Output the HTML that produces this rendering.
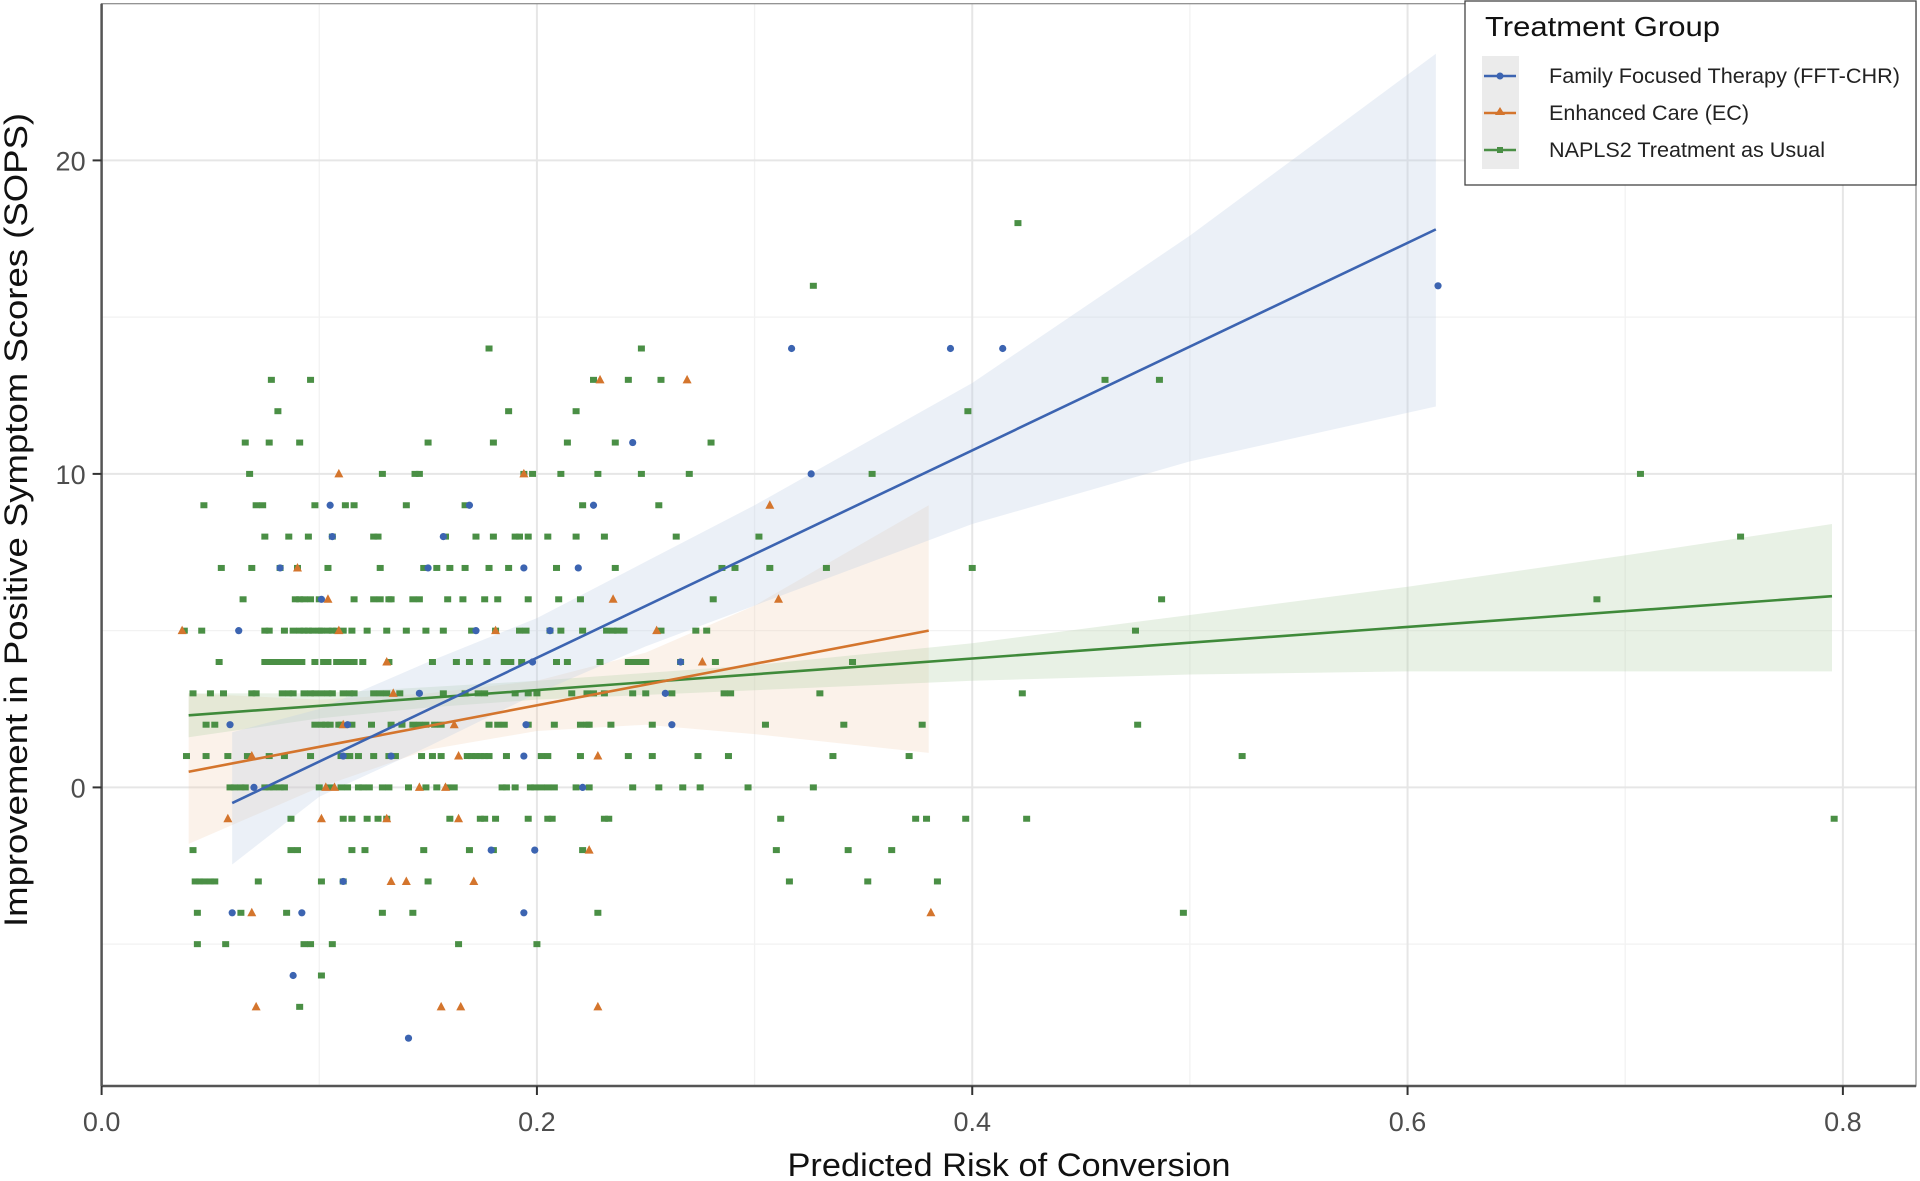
<!DOCTYPE html>
<html><head><meta charset="utf-8">
<style>
html,body{margin:0;padding:0;background:#fff;}
svg{display:block;font-family:"Liberation Sans",sans-serif;}
</style></head>
<body>
<svg id="chart" width="1920" height="1181" viewBox="0 0 1920 1181" xmlns="http://www.w3.org/2000/svg">
<g id="grid"></g>
<g id="bands"></g>
<g id="pts"></g>
<g id="lines"></g>
<g id="axes"></g>
<g id="legend">
  <rect x="1465" y="1" width="451" height="184" fill="#fff" stroke="#444" stroke-width="1.3"/>
  <text x="1485" y="36" font-size="28" fill="#111" textLength="235" lengthAdjust="spacingAndGlyphs">Treatment Group</text>
  <rect x="1482" y="56" width="37" height="113" fill="#ebebeb"/>
  <g>
    <line x1="1484" y1="76" x2="1516" y2="76" stroke="#3c64b1" stroke-width="2.5"/><circle cx="1500" cy="76" r="3.5" fill="#3c64b1"/>
    <text x="1549" y="83" font-size="21" fill="#222" textLength="351" lengthAdjust="spacingAndGlyphs">Family Focused Therapy (FFT-CHR)</text></g>
  <g>
    <line x1="1484" y1="113" x2="1516" y2="113" stroke="#d4752d" stroke-width="2.5"/><path d="M1500,107 L1505,115 L1495,115Z" fill="#d4752d"/>
    <text x="1549" y="120" font-size="21" fill="#222" textLength="200" lengthAdjust="spacingAndGlyphs">Enhanced Care (EC)</text></g>
  <g>
    <line x1="1484" y1="150" x2="1516" y2="150" stroke="#4a8f45" stroke-width="2.5"/><rect x="1497" y="147" width="6" height="6" fill="#4a8f45"/>
    <text x="1549" y="157" font-size="21" fill="#222" textLength="276" lengthAdjust="spacingAndGlyphs">NAPLS2 Treatment as Usual</text></g>
</g>
</svg>
<script>
const xTicks=[0,0.2,0.4,0.6,0.8];
const xTickLabels=["0.0","0.2","0.4","0.6","0.8"];
const yTicks=[0,10,20];
const yTickLabels=["0","10","20"];
const xMinor=[0.1,0.3,0.5,0.7];
const yMinor=[-5,5,15];
// fitted lines [x0,y0,x1,y1]
const fftLine=[0.06,-0.5,0.613,17.8];
const ecLine=[0.04,0.5,0.38,5.0];
const tauLine=[0.04,2.3,0.795,6.1];
// confidence bands
const fftBandX=[0.06,0.1,0.15,0.2,0.25,0.3,0.4,0.5,0.613];
const fftBandLo=[-2.46,-0.3,1.3,3.0,4.5,5.8,8.4,10.4,12.15];
const fftBandHi=[1.76,2.5,4.0,5.4,7.2,9.0,12.9,17.6,23.4];
const ecBandX=[0.04,0.1,0.15,0.2,0.25,0.3,0.38];
const ecBandLo=[-1.8,0.0,1.2,1.8,2.0,1.7,1.1];
const ecBandHi=[3.0,2.8,3.0,3.4,4.3,5.8,9.0];
const tauBandX=[0.04,0.1,0.15,0.2,0.3,0.4,0.5,0.6,0.7,0.795];
const tauBandLo=[1.6,2.2,2.55,2.8,3.1,3.4,3.6,3.7,3.7,3.7];
const tauBandHi=[3.0,3.0,3.2,3.4,3.9,4.6,5.5,6.4,7.4,8.4];
// points: [score,[risk...]]
const fftRows=[[16,[0.614]],[14,[0.317,0.390,0.414]],[11,[0.244]],[10,[0.326]],[9,[0.105,0.169,0.226]],[8,[0.106,0.157]],[7,[0.082,0.150,0.194,0.219]],[6,[0.101]],[5,[0.063,0.172,0.206]],[4,[0.198,0.266]],[3,[0.146,0.259]],[2,[0.059,0.113,0.195,0.262]],[1,[0.111,0.133,0.194]],[0,[0.070,0.221]],[-2,[0.179,0.199]],[-3,[0.111]],[-4,[0.060,0.092,0.194]],[-6,[0.088]],[-8,[0.141]]];
const ecRows=[[13,[0.229,0.269]],[10,[0.109,0.194]],[9,[0.307]],[7,[0.090]],[6,[0.104,0.235,0.311]],[5,[0.037,0.109,0.181,0.255]],[4,[0.131,0.276]],[3,[0.134]],[2,[0.111,0.162]],[1,[0.069,0.164,0.228]],[0,[0.103,0.107,0.146,0.158]],[-1,[0.058,0.101,0.131,0.164]],[-2,[0.224]],[-3,[0.133,0.140,0.171]],[-4,[0.069,0.381]],[-7,[0.071,0.156,0.165,0.228]]];
const tauRows=[[18,[0.421]],[16,[0.327]],[14,[0.178,0.248]],[13,[0.078,0.096,0.226,0.242,0.257,0.461,0.486]],[12,[0.081,0.187,0.218,0.398]],
[11,[0.066,0.077,0.091,0.150,0.180,0.214,0.236,0.280]],
[10,[0.068,0.129,0.144,0.146,0.194,0.198,0.211,0.228,0.248,0.270,0.354,0.707]],
[9,[0.047,0.071,0.074,0.098,0.112,0.116,0.140,0.167,0.221,0.256]],
[8,[0.075,0.086,0.095,0.106,0.125,0.127,0.158,0.172,0.180,0.190,0.192,0.196,0.205,0.218,0.231,0.264,0.302,0.753]],
[7,[0.055,0.069,0.082,0.090,0.104,0.128,0.148,0.154,0.160,0.167,0.178,0.187,0.209,0.236,0.285,0.291,0.307,0.333,0.400]],
[6,[0.065,0.089,0.091,0.093,0.096,0.100,0.116,0.125,0.128,0.132,0.133,0.143,0.146,0.159,0.166,0.176,0.182,0.196,0.210,0.220,0.281,0.487,0.687]],
[5,[0.038,0.046,0.075,0.077,0.084,0.088,0.091,0.093,0.095,0.097,0.100,0.101,0.104,0.106,0.108,0.111,0.115,0.122,0.131,0.140,0.149,0.157,0.170,0.181,0.192,0.195,0.206,0.211,0.221,0.232,0.235,0.237,0.240,0.257,0.273,0.278,0.475]],
[4,[0.054,0.075,0.077,0.079,0.082,0.084,0.087,0.089,0.092,0.098,0.102,0.104,0.108,0.111,0.113,0.116,0.120,0.132,0.152,0.163,0.169,0.177,0.185,0.188,0.193,0.209,0.214,0.229,0.242,0.245,0.248,0.250,0.266,0.282,0.345]],
[3,[0.042,0.050,0.056,0.069,0.071,0.083,0.086,0.088,0.093,0.096,0.098,0.101,0.104,0.106,0.111,0.114,0.116,0.125,0.128,0.131,0.137,0.157,0.167,0.173,0.176,0.190,0.196,0.200,0.216,0.223,0.226,0.231,0.244,0.250,0.262,0.286,0.289,0.330,0.423]],
[2,[0.048,0.052,0.098,0.101,0.103,0.105,0.109,0.110,0.115,0.124,0.133,0.138,0.143,0.146,0.149,0.153,0.156,0.178,0.182,0.185,0.196,0.208,0.220,0.223,0.224,0.234,0.253,0.305,0.341,0.377,0.476]],
[1,[0.039,0.048,0.058,0.067,0.077,0.084,0.096,0.110,0.112,0.114,0.118,0.125,0.132,0.135,0.147,0.152,0.156,0.168,0.170,0.172,0.174,0.176,0.178,0.186,0.202,0.205,0.220,0.242,0.253,0.274,0.288,0.336,0.371,0.524]],
[0,[0.059,0.061,0.064,0.066,0.075,0.077,0.079,0.082,0.084,0.100,0.105,0.110,0.113,0.118,0.120,0.123,0.129,0.132,0.141,0.149,0.154,0.159,0.162,0.184,0.186,0.190,0.197,0.199,0.202,0.205,0.208,0.218,0.224,0.244,0.256,0.267,0.275,0.297,0.327]],
[-1,[0.087,0.111,0.115,0.122,0.127,0.131,0.160,0.174,0.176,0.181,0.196,0.205,0.207,0.231,0.233,0.312,0.374,0.379,0.397,0.425,0.796]],
[-2,[0.042,0.087,0.090,0.115,0.121,0.148,0.169,0.180,0.221,0.310,0.343,0.363]],
[-3,[0.043,0.045,0.047,0.050,0.052,0.072,0.101,0.111,0.150,0.316,0.352,0.384]],
[-4,[0.044,0.064,0.085,0.129,0.143,0.228,0.497]],
[-5,[0.044,0.057,0.093,0.096,0.106,0.164,0.200]],
[-6,[0.101]],[-7,[0.091]]];

const NS="http://www.w3.org/2000/svg";
const L=101.6,R=1916,T=3.7,B=1086;
const X=v=>L+2176.6*v;
const Y=v=>787.4-31.35*v;
function mk(tag,attrs,parent){const e=document.createElementNS(NS,tag);for(const k in attrs)e.setAttribute(k,attrs[k]);parent.appendChild(e);return e;}
const grid=document.getElementById('grid'),bands=document.getElementById('bands'),pts=document.getElementById('pts'),lines=document.getElementById('lines'),axes=document.getElementById('axes');
mk('rect',{x:L,y:T,width:R-L,height:B-T,fill:'#fff'},grid);
xMinor.forEach(v=>{const e=mk('line',{x1:X(v),x2:X(v),y1:T,y2:B,stroke:'#f2f2f2','stroke-width':1.3},grid);

});
yMinor.forEach(v=>{const e=mk('line',{x1:L,x2:R,y1:Y(v),y2:Y(v),stroke:'#f2f2f2','stroke-width':1.3},grid);

});
xTicks.forEach(v=>{const e=mk('line',{x1:X(v),x2:X(v),y1:T,y2:B,stroke:'#e6e6e6','stroke-width':2},grid);

});
yTicks.forEach(v=>{const e=mk('line',{x1:L,x2:R,y1:Y(v),y2:Y(v),stroke:'#e6e6e6','stroke-width':2},grid);

});
function band(xs,lo,hi,fill,name){let d='M'+xs.map((x,i)=>X(x)+','+Y(hi[i])).join(' L');
for(let i=xs.length-1;i>=0;i--)d+=' L'+X(xs[i])+','+Y(lo[i]);
const e=mk('path',{d:d+'Z',fill:fill},bands);

}
band(ecBandX,ecBandLo,ecBandHi,'rgba(240,205,170,0.25)','ec-ci-band');
band(tauBandX,tauBandLo,tauBandHi,'rgba(180,210,170,0.3)','tau-ci-band');
band(fftBandX,fftBandLo,fftBandHi,'rgba(190,205,230,0.3)','fft-ci-band');
function drawPts(rows,kind,color,name){rows.forEach(r=>{const y=r[0];r[1].forEach(x=>{let e;const cx=X(x),cy=Y(y);
if(kind==='sq')e=mk('rect',{x:cx-3.5,y:cy-3,width:7,height:6,fill:color},pts);
else if(kind==='ci')e=mk('circle',{cx:cx,cy:cy,r:3.6,fill:color},pts);
else e=mk('path',{d:`M${cx},${cy-5} L${cx+4.5},${cy+3.5} L${cx-4.5},${cy+3.5}Z`,fill:color},pts);

});});}
drawPts(tauRows,'sq','#4a8f45','tau-point');
drawPts(ecRows,'tr','#d4752d','ec-point');
drawPts(fftRows,'ci','#3c64b1','fft-point');
function ln(a,color,name){const e=mk('line',{x1:X(a[0]),y1:Y(a[1]),x2:X(a[2]),y2:Y(a[3]),stroke:color,'stroke-width':2.6},lines);

}
ln(tauLine,'#3f8a3a','tau-fit-line');
ln(ecLine,'#d4752d','ec-fit-line');
ln(fftLine,'#3c64b1','fft-fit-line');
// frame and axes
mk('rect',{x:L,y:T,width:R-L,height:B-T,fill:'none',stroke:'#888','stroke-width':1.2},axes);
mk('line',{x1:L,x2:L,y1:T,y2:B,stroke:'#555','stroke-width':2.5},axes);
mk('line',{x1:L,x2:R,y1:B,y2:B,stroke:'#555','stroke-width':2.5},axes);
xTicks.forEach((v,i)=>{mk('line',{x1:X(v),x2:X(v),y1:B,y2:B+9,stroke:'#333','stroke-width':2},axes);
const t=mk('text',{x:X(v),y:1131,'font-size':27,'text-anchor':'middle',fill:'#4d4d4d'},axes);t.textContent=xTickLabels[i];

});
yTicks.forEach((v,i)=>{mk('line',{x1:L-9,x2:L,y1:Y(v),y2:Y(v),stroke:'#333','stroke-width':2},axes);
const t=mk('text',{x:L-16,y:Y(v)+10,'font-size':27,'text-anchor':'end',fill:'#4d4d4d'},axes);t.textContent=yTickLabels[i];

});
const xt=mk('text',{x:1009,y:1176,'font-size':32,'text-anchor':'middle',fill:'#111',textLength:443,lengthAdjust:'spacingAndGlyphs'},axes);xt.textContent='Predicted Risk of Conversion';


const yt=mk('text',{x:0,y:0,'font-size':32,'text-anchor':'middle',fill:'#111',textLength:814,lengthAdjust:'spacingAndGlyphs',transform:'translate(27,520) rotate(-90)'},axes);yt.textContent='Improvement in Positive Symptom Scores (SOPS)';


</script>
</body></html>
